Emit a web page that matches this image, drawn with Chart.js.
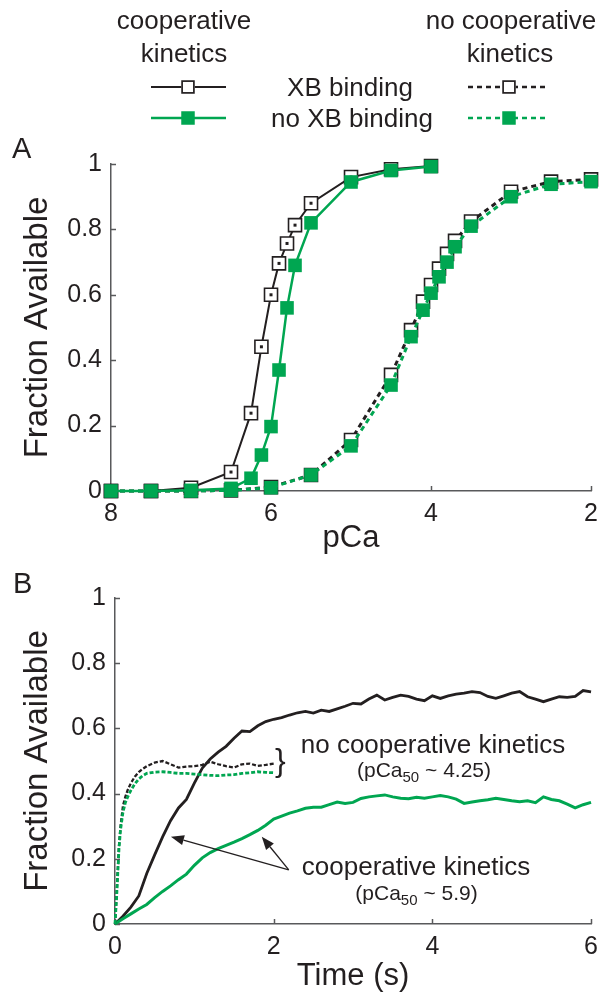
<!DOCTYPE html>
<html><head><meta charset="utf-8">
<script src="https://cdn.jsdelivr.net/npm/chart.js@4.4.1/dist/chart.umd.min.js"></script>
<style>
html,body{margin:0;padding:0;background:#fff;}
#wrap{position:relative;width:606px;height:998px;overflow:hidden;}
#cA{position:absolute;left:0;top:0;}
#cB{position:absolute;left:0;top:560px;}
</style></head>
<body><div id="wrap">
<canvas id="cA" width="606" height="560"></canvas>
<canvas id="cB" width="606" height="438"></canvas>
</div>
<script>
// ---------- Panel A data (steady state vs pCa) ----------
const pCaCoop   = [8, 7.5, 7, 6.5, 6.25, 6.12, 6.0, 5.9, 5.8, 5.7, 5.5, 5, 4.5, 4];
const coopXB    = [0, 0, 0.01, 0.058, 0.238, 0.441, 0.600, 0.696, 0.757, 0.813, 0.880, 0.960, 0.984, 0.994];
const coopNoXB  = [0, 0, 0.002, 0.008, 0.039, 0.110, 0.197, 0.370, 0.560, 0.690, 0.820, 0.945, 0.980, 0.992];
const pCaNoCoop = [8, 7.5, 7, 6.5, 6, 5.5, 5, 4.5, 4.25, 4.1, 4.0, 3.9, 3.8, 3.7, 3.5, 3, 2.5, 2];
const noCoopXB  = [0, 0, 0, 0.002, 0.012, 0.049, 0.156, 0.355, 0.492, 0.579, 0.630, 0.680, 0.725, 0.765, 0.824, 0.915, 0.946, 0.953];
const noCoopNoXB= [0, 0, 0, 0.002, 0.010, 0.049, 0.138, 0.324, 0.472, 0.553, 0.605, 0.655, 0.700, 0.747, 0.810, 0.900, 0.938, 0.946];

// ---------- Panel B data (time courses) ----------
const tCoop = [0,0.1,0.2,0.3,0.4,0.5,0.6,0.7,0.8,0.9,1.0,1.1,1.2,1.3,1.4,1.5,1.6,1.7,1.8,1.9,
  2.0,2.1,2.2,2.3,2.4,2.5,2.6,2.7,2.8,2.9,3.0,3.1,3.2,3.3,3.4,3.5,3.6,3.7,3.8,3.9,
  4.0,4.1,4.2,4.3,4.4,4.5,4.6,4.7,4.8,4.9,5.0,5.1,5.2,5.3,5.4,5.5,5.6,5.7,5.8,5.9,6.0];
const coopXBTime = [0,0.024,0.052,0.086,0.155,0.212,0.267,0.317,0.356,0.382,0.432,0.478,0.506,0.527,0.545,0.570,0.592,0.590,0.608,0.621,
  0.628,0.633,0.641,0.648,0.652,0.647,0.656,0.652,0.660,0.668,0.677,0.675,0.690,0.702,0.687,0.695,0.702,0.698,0.690,0.685,
  0.700,0.692,0.700,0.705,0.708,0.713,0.710,0.698,0.692,0.700,0.708,0.713,0.697,0.690,0.682,0.690,0.697,0.695,0.698,0.716,0.712];
const coopNoXBTime = [0,0.016,0.031,0.046,0.060,0.081,0.100,0.117,0.136,0.153,0.180,0.203,0.219,0.231,0.241,0.251,0.262,0.274,0.287,0.303,
  0.322,0.331,0.340,0.347,0.355,0.358,0.358,0.366,0.374,0.370,0.373,0.385,0.390,0.393,0.396,0.390,0.386,0.384,0.389,0.386,
  0.390,0.394,0.390,0.383,0.370,0.374,0.378,0.381,0.386,0.382,0.378,0.375,0.378,0.372,0.390,0.382,0.378,0.368,0.356,0.366,0.373];
const tNoCoop = [0,0.02,0.035,0.05,0.07,0.1,0.13,0.16,0.2,0.25,0.3,0.35,0.4,0.5,0.6,0.7,0.8,0.9,1.0,1.1,1.2,1.3,1.4,1.5,1.6,1.7,1.8,1.9,2.0];
const noCoopXBTime   = [0,0.09,0.166,0.24,0.30,0.362,0.39,0.411,0.432,0.452,0.466,0.476,0.484,0.495,0.500,0.490,0.480,0.483,0.484,0.488,0.498,0.490,0.484,0.480,0.490,0.492,0.485,0.488,0.492];
const noCoopNoXBTime = [0,0.08,0.155,0.23,0.29,0.342,0.372,0.39,0.41,0.43,0.445,0.455,0.462,0.466,0.467,0.465,0.462,0.462,0.460,0.458,0.456,0.455,0.457,0.458,0.462,0.464,0.467,0.465,0.464];

// ---------- tick labels ----------
const yTickLabels = ['0','0.2','0.4','0.6','0.8','1'];
const xTickLabelsA = {2:'2',4:'4',6:'6',8:'8'};
const xTickLabelsB = {0:'0',2:'2',4:'4',6:'6'};

const BLACK = '#231f20', GREEN = '#00a651', AXIS = '#58595b';
const FONT = "'Liberation Sans', Arial, Helvetica, sans-serif";
Chart.defaults.font.family = FONT;
Chart.defaults.color = BLACK;

function pts(xs, ys){ return xs.map((x,i)=>({x:x, y:ys[i]})); }

const inwardTicks = {
  id:'inwardTicks',
  beforeDatasetsDraw(chart){
    const {ctx, chartArea:{left,bottom}} = chart;
    const xs = chart.scales.x, ys = chart.scales.y;
    ctx.save(); ctx.strokeStyle = AXIS; ctx.lineWidth = 1.5;
    xs.ticks.forEach(t=>{ const p = Math.round(xs.getPixelForValue(t.value))+0.5; ctx.beginPath(); ctx.moveTo(p,bottom); ctx.lineTo(p,bottom-5); ctx.stroke(); });
    ys.ticks.forEach(t=>{ const p = Math.round(ys.getPixelForValue(t.value))+0.5; ctx.beginPath(); ctx.moveTo(left,p); ctx.lineTo(left+5,p); ctx.stroke(); });
    ctx.restore();
  }
};

const centerDots = {
  id:'centerDots',
  afterDatasetDraw(chart, args){
    const ds = chart.data.datasets[args.index];
    if (!ds.centerDot) return;
    const ctx = chart.ctx; ctx.save(); ctx.fillStyle = BLACK;
    args.meta.data.forEach(el=>{ ctx.fillRect(el.x-1.5, el.y-1.5, 3, 3); });
    ctx.restore();
  }
};

function drawSquare(ctx, x, y, filled){
  const s = 13.5;
  ctx.save();
  if (filled){ ctx.fillStyle = GREEN; ctx.fillRect(x-s/2, y-s/2, s, s); }
  else { ctx.fillStyle='#fff'; ctx.fillRect(x-s/2,y-s/2,s,s); ctx.strokeStyle=BLACK; ctx.lineWidth=1.7; ctx.strokeRect(x-s/2+0.85,y-s/2+0.85,s-1.7,s-1.7); }
  ctx.restore();
}

const legendA = {
  id:'legendA',
  afterDraw(chart){
    const ctx = chart.ctx;
    ctx.save();
    ctx.fillStyle = BLACK;
    ctx.textBaseline = 'alphabetic';
    ctx.textAlign = 'center';
    ctx.font = "26px " + FONT;
    ctx.fillText('cooperative', 184, 29);
    ctx.fillText('kinetics', 184, 62);
    ctx.fillText('no cooperative', 511, 29);
    ctx.fillText('kinetics', 510, 62);
    ctx.fillText('XB binding', 350, 96);
    ctx.fillText('no XB binding', 352, 127);
    // samples
    ctx.lineWidth = 2.2;
    ctx.strokeStyle = BLACK; ctx.beginPath(); ctx.moveTo(151,87); ctx.lineTo(226,87); ctx.stroke();
    drawSquare(ctx, 188, 87, false);
    ctx.strokeStyle = GREEN; ctx.lineWidth = 2.5; ctx.beginPath(); ctx.moveTo(151,118); ctx.lineTo(226,118); ctx.stroke();
    drawSquare(ctx, 188, 118, true);
    ctx.setLineDash([5,4]);
    ctx.strokeStyle = BLACK; ctx.lineWidth = 2.5; ctx.beginPath(); ctx.moveTo(468,87); ctx.lineTo(547,87); ctx.stroke();
    ctx.strokeStyle = GREEN; ctx.beginPath(); ctx.moveTo(468,118); ctx.lineTo(547,118); ctx.stroke();
    ctx.setLineDash([]);
    drawSquare(ctx, 509, 87, false);
    drawSquare(ctx, 509, 118, true);
    // panel letter
    ctx.textAlign = 'left';
    ctx.font = "29px " + FONT;
    ctx.fillText('A', 12, 158);
    ctx.restore();
  }
};

function commonScales(xOpts, yWidth, xHeight, xTitle, xLabels){
  return {
    x: Object.assign({
      type:'linear',
      afterFit(s){ s.height = xHeight; },
      border:{display:true, color:AXIS, width:1.5},
      grid:{display:true, drawOnChartArea:false, drawTicks:false, color:AXIS},
      ticks:{stepSize:2, padding:8, maxRotation:0, autoSkip:false, color:BLACK, font:{size:25},
        callback:(v)=> xLabels[v] !== undefined ? xLabels[v] : ''},
      title:{display:true, text:xTitle, color:BLACK, font:{size:31}, padding:{top:0,bottom:3}}
    }, xOpts),
    y: {
      type:'linear', min:0, max:1,
      afterFit(s){ s.width = yWidth; },
      border:{display:true, color:AXIS, width:1.5},
      grid:{display:true, drawOnChartArea:false, drawTicks:false, color:AXIS},
      ticks:{stepSize:0.2, padding:9, color:BLACK, font:{size:25},
        callback:(v)=> yTickLabels[Math.round(v*5)]},
      title:{display:true, text:'Fraction Available', color:BLACK, font:{size:33}, padding:{top:18,bottom:0}}
    }
  };
}

new Chart(document.getElementById('cA'), {
  type:'line',
  data:{ datasets:[
    {label:'cooperative, no XB binding', data:pts(pCaCoop, coopNoXB), borderColor:GREEN, borderWidth:2.5,
      pointStyle:'rect', pointRadius:9.6, pointBackgroundColor:GREEN, pointBorderWidth:0, order:1},
    {label:'cooperative, XB binding', data:pts(pCaCoop, coopXB), borderColor:BLACK, borderWidth:2,
      pointStyle:'rect', pointRadius:9.2, pointBackgroundColor:'#fff', pointBorderColor:BLACK, pointBorderWidth:1.6, order:2, centerDot:true},
    {label:'no cooperative, no XB binding', data:pts(pCaNoCoop, noCoopNoXB), borderColor:GREEN, borderWidth:3, borderDash:[5,4],
      pointStyle:'rect', pointRadius:9.6, pointBackgroundColor:GREEN, pointBorderWidth:0, order:3},
    {label:'no cooperative, XB binding', data:pts(pCaNoCoop, noCoopXB), borderColor:BLACK, borderWidth:3, borderDash:[5,4],
      pointStyle:'rect', pointRadius:9.2, pointBackgroundColor:'#fff', pointBorderColor:BLACK, pointBorderWidth:1.6, order:4}
  ]},
  options:{
    responsive:false, animation:false, events:[],
    clip:false,
    layout:{padding:{top:164, right:13, left:0, bottom:0}},
    elements:{line:{tension:0}},
    plugins:{legend:{display:false}, tooltip:{enabled:false}},
    scales: commonScales({min:2, max:8, reverse:true}, 111, 69, 'pCa', xTickLabelsA)
  },
  plugins:[inwardTicks, centerDots, legendA]
});

function arrow(ctx, x0, y0, x1, y1){
  const ang = Math.atan2(y1-y0, x1-x0), L = 13, W = 5;
  const bx = x1 - L*Math.cos(ang), by = y1 - L*Math.sin(ang);
  ctx.beginPath(); ctx.moveTo(x0,y0); ctx.lineTo(bx,by); ctx.stroke();
  ctx.beginPath(); ctx.moveTo(x1,y1);
  ctx.lineTo(bx + W*Math.sin(ang), by - W*Math.cos(ang));
  ctx.lineTo(bx - W*Math.sin(ang), by + W*Math.cos(ang));
  ctx.closePath(); ctx.fill();
}

function subText(ctx, pre, sub, post, cx, baseline, size){
  ctx.font = size+"px "+FONT; const w1 = ctx.measureText(pre).width, w3 = ctx.measureText(post).width;
  ctx.font = Math.round(size*0.72)+"px "+FONT; const w2 = ctx.measureText(sub).width;
  let x = cx - (w1+w2+w3)/2;
  ctx.textAlign='left';
  ctx.font = size+"px "+FONT; ctx.fillText(pre, x, baseline); x += w1;
  ctx.font = Math.round(size*0.72)+"px "+FONT; ctx.fillText(sub, x, baseline+5); x += w2;
  ctx.font = size+"px "+FONT; ctx.fillText(post, x, baseline);
}

const annotB = {
  id:'annotB',
  afterDraw(chart){
    const ctx = chart.ctx, xs = chart.scales.x, ys = chart.scales.y;
    const X = v=>xs.getPixelForValue(v), Y = v=>ys.getPixelForValue(v);
    ctx.save();
    ctx.fillStyle = BLACK; ctx.strokeStyle = BLACK; ctx.lineWidth = 1.3;
    ctx.textBaseline = 'alphabetic';
    // brace
    ctx.textAlign = 'center'; ctx.font = "300 32px " + FONT;
    ctx.fillText('}', X(2.085), Y(0.468));
    ctx.font = "26px " + FONT;
    ctx.fillText('no cooperative kinetics', 433, Y(0.525));
    subText(ctx, '(pCa', '50', ' ~ 4.25)', 424, Y(0.451), 21);
    ctx.textAlign='center'; ctx.font = "26px " + FONT;
    ctx.fillText('cooperative kinetics', 416, Y(0.150));
    subText(ctx, '(pCa', '50', ' ~ 5.9)', 416.5, Y(0.073), 21);
    // arrows
    arrow(ctx, X(2.19), Y(0.166), X(0.705), Y(0.268));
    arrow(ctx, X(2.19), Y(0.166), X(1.85), Y(0.268));
    // panel letter
    ctx.textAlign='left'; ctx.font = "29px " + FONT;
    ctx.fillText('B', 13, 33);
    ctx.restore();
  }
};

new Chart(document.getElementById('cB'), {
  type:'line',
  data:{ datasets:[
    {label:'no cooperative, no XB', data:pts(tNoCoop, noCoopNoXBTime), borderColor:GREEN, borderWidth:2.8, borderDash:[4,2], pointRadius:0, order:1},
    {label:'no cooperative, XB', data:pts(tNoCoop, noCoopXBTime), borderColor:BLACK, borderWidth:2.3, borderDash:[4,2], pointRadius:0, order:2},
    {label:'cooperative, no XB', data:pts(tCoop, coopNoXBTime), borderColor:GREEN, borderWidth:3, pointRadius:0, order:3},
    {label:'cooperative, XB', data:pts(tCoop, coopXBTime), borderColor:BLACK, borderWidth:2.8, pointRadius:0, order:4}
  ]},
  options:{
    responsive:false, animation:false, events:[],
    clip:false,
    layout:{padding:{top:38, right:13, left:0, bottom:0}},
    elements:{line:{tension:0}},
    plugins:{legend:{display:false}, tooltip:{enabled:false}},
    scales: commonScales({min:0, max:6}, 115, 74, 'Time (s)', xTickLabelsB)
  },
  plugins:[inwardTicks, annotB]
});
</script>
</body></html>
